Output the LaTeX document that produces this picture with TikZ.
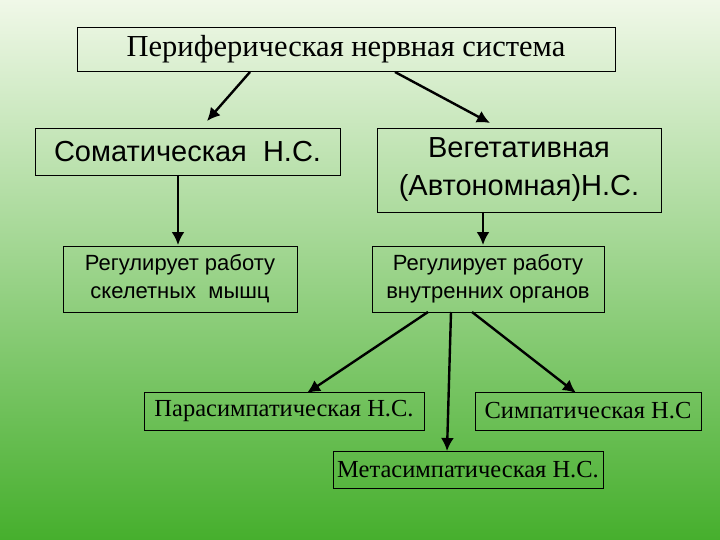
\documentclass[tikz,border=0pt]{standalone}
\usepackage{fontspec}
\usetikzlibrary{arrows.meta}
\setmainfont{Liberation Serif}
\setsansfont{Liberation Sans}
\definecolor{topg}{RGB}{240,248,232}
\definecolor{botg}{RGB}{70,175,45}
\begin{document}
\begin{tikzpicture}[x=1pt,y=-1pt,
  box/.style={draw=black,line width=0.8pt,inner sep=0pt,align=center},
  arr/.style={-{Latex[length=13pt,width=13pt]},line width=2.4pt}]
\shade[top color=topg,bottom color=botg,shading angle=0] (0,0) rectangle (720,540);
\useasboundingbox (0,0) rectangle (720,540);
\node[box,minimum width=538,minimum height=44,font=\fontsize{30.5}{36}\selectfont] (p) at (346,49) {Периферическая нервная система};
\node[box,minimum width=305,minimum height=47,font=\sffamily\fontsize{29}{34}\selectfont] (s) at (187.5,151.5) {Соматическая\ \ Н.С.};
\node[box,minimum width=284,minimum height=84,font=\sffamily\fontsize{29}{38}\selectfont] (v) at (519,170) {Вегетативная\\(Автономная)Н.С.};
\node[box,minimum width=234,minimum height=66,font=\sffamily\fontsize{22}{28}\selectfont] (r1) at (180,279) {Регулирует работу\\скелетных\ \ мышц};
\node[box,minimum width=232,minimum height=66,font=\sffamily\fontsize{22}{28}\selectfont] (r2) at (488,279) {Регулирует работу\\внутренних органов};
\node[box,minimum width=280,minimum height=38,font=\fontsize{24.5}{28}\selectfont] (pa) at (284,411) {Парасимпатическая Н.С.};
\node[box,minimum width=226,minimum height=38,font=\fontsize{24.5}{28}\selectfont] (si) at (588,411) {Симпатическая Н.С};
\node[box,minimum width=270,minimum height=37,font=\fontsize{24.5}{28}\selectfont] (me) at (468,469.5) {Метасимпатическая Н.С.};
\draw[arr] (250,72) -- (207,121);
\draw[arr] (395,72) -- (490,123);
\draw[arr] (178,175) -- (178,245);
\draw[arr] (483,212) -- (483,245);
\draw[arr] (428,312) -- (307,393);
\draw[arr] (451,312) -- (447,451);
\draw[arr] (472,312) -- (576,393);
\end{tikzpicture}
\end{document}
